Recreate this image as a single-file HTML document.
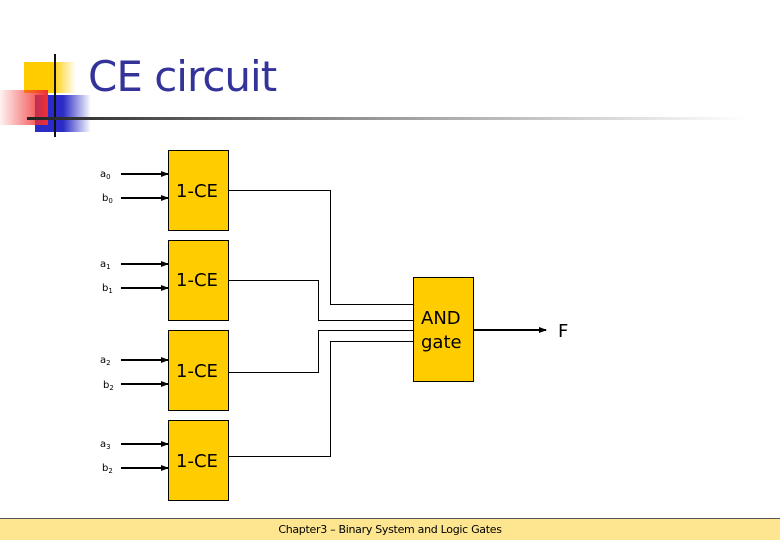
<!DOCTYPE html>
<html><head><meta charset="utf-8"><style>
body{margin:0;width:780px;height:540px;position:relative;background:#fff;overflow:hidden;font-family:"Liberation Sans","DejaVu Sans",sans-serif}
.a{position:absolute}
</style></head><body>
<div class="a" style="left:24px;top:62px;width:52px;height:31px;background:linear-gradient(90deg,#ffcc00 55%,rgba(255,204,0,0))"></div>
<div class="a" style="left:35px;top:95px;width:56px;height:37px;background:linear-gradient(90deg,#2b2bc8 50%,rgba(43,43,200,0))"></div>
<div class="a" style="left:0px;top:90px;width:48px;height:35px;background:linear-gradient(90deg,rgba(255,0,0,0.05),#f03030)"></div>
<div class="a" style="left:54px;top:54px;width:2px;height:83px;background:#111"></div>
<div class="a" style="left:27px;top:117px;width:720px;height:3px;background:linear-gradient(90deg,#222,#888 40%,rgba(200,200,200,0))"></div>
<div class="a" style="left:88px;top:52px;font-family:'DejaVu Sans',sans-serif;font-size:42px;color:#333399;letter-spacing:-1px">CE circuit</div>
<svg class="a" style="left:0;top:0" width="780" height="540">
<defs><marker id="m" markerWidth="8" markerHeight="8" refX="7" refY="4" orient="auto" markerUnits="userSpaceOnUse"><path d="M0,1 L8,4 L0,7z" fill="#000"/></marker></defs>
<g fill="#ffcc00" stroke="#000" stroke-width="1">
<rect x="168.5" y="150.5" width="60" height="80"/>
<rect x="168.5" y="240.5" width="60" height="80"/>
<rect x="168.5" y="330.5" width="60" height="80"/>
<rect x="168.5" y="420.5" width="60" height="80"/>
<rect x="413.5" y="277.5" width="60" height="104"/>
</g>
<g stroke="#000" stroke-width="2" marker-end="url(#m)">
<line x1="121" y1="174" x2="168" y2="174"/><line x1="121" y1="198" x2="168" y2="198"/>
<line x1="121" y1="264" x2="168" y2="264"/><line x1="121" y1="288" x2="168" y2="288"/>
<line x1="121" y1="360" x2="168" y2="360"/><line x1="121" y1="384" x2="168" y2="384"/>
<line x1="121" y1="444" x2="168" y2="444"/><line x1="121" y1="468" x2="168" y2="468"/>
<line x1="474" y1="330" x2="546" y2="330"/>
</g>
<g fill="none" stroke="#000" stroke-width="1">
<polyline points="229,190.5 330.5,190.5 330.5,304.5 413,304.5"/>
<polyline points="229,280.5 318.5,280.5 318.5,320.5 413,320.5"/>
<polyline points="229,372.5 318.5,372.5 318.5,330.5 413,330.5"/>
<polyline points="229,456.5 330.5,456.5 330.5,341.5 413,341.5"/>
</g>
<g font-family="DejaVu Sans,sans-serif" font-size="10" fill="#000">
<text x="100" y="177">a<tspan font-size="7" dy="2">0</tspan></text>
<text x="102" y="201">b<tspan font-size="7" dy="2">0</tspan></text>
<text x="100" y="267">a<tspan font-size="7" dy="2">1</tspan></text>
<text x="102" y="291">b<tspan font-size="7" dy="2">1</tspan></text>
<text x="100" y="363">a<tspan font-size="7" dy="2">2</tspan></text>
<text x="103" y="388">b<tspan font-size="7" dy="2">2</tspan></text>
<text x="100" y="447">a<tspan font-size="7" dy="2">3</tspan></text>
<text x="102" y="471">b<tspan font-size="7" dy="2">2</tspan></text>
</g>
<g font-family="DejaVu Sans,sans-serif" font-size="18" fill="#000">
<text x="176" y="197">1-CE</text><text x="176" y="286">1-CE</text>
<text x="176" y="377">1-CE</text><text x="176" y="467">1-CE</text>
<text x="421" y="324">AND</text><text x="421" y="348">gate</text>
<text x="558" y="337">F</text>
</g>
</svg>
<div class="a" style="left:0;top:518px;width:780px;height:1px;background:#555"></div>
<div class="a" style="left:0;top:519px;width:780px;height:21px;background:#fde68f;text-align:center;font-family:'DejaVu Sans',sans-serif;font-size:11px;line-height:21px;color:#000;letter-spacing:-0.3px">Chapter3 – Binary System and Logic Gates</div>
</body></html>
